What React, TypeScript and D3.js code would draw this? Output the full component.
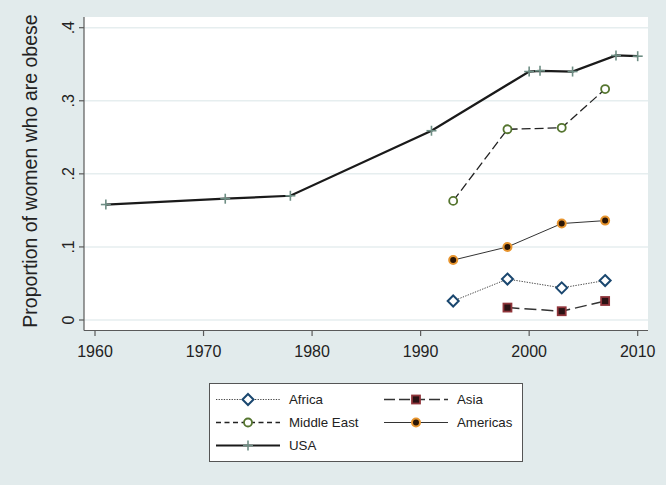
import React from "react";
import * as d3 from "d3";

const usaYears = [1961, 1972, 1978, 1991, 2000, 2001, 2004, 2008, 2010];
const usaValues = [0.158, 0.166, 0.17, 0.259, 0.34, 0.341, 0.34, 0.362, 0.361];
const regionYears = [1993, 1998, 2003, 2007];
const africaValues = [0.026, 0.056, 0.044, 0.054];
const middleEastValues = [0.163, 0.261, 0.263, 0.316];
const americasValues = [0.082, 0.1, 0.132, 0.136];
const asiaYears = [1998, 2003, 2007];
const asiaValues = [0.017, 0.012, 0.026];
const xTicks = [1960, 1970, 1980, 1990, 2000, 2010];
const yTicks = [0, 0.1, 0.2, 0.3, 0.4];
const yTickLabels = ["0", ".1", ".2", ".3", ".4"];

const W = 666;
const H = 485;
const BG = "#e2ebec";
const FONT = "Liberation Sans, Arial, sans-serif";

const plot = { left: 84, right: 648, top: 17, bottom: 330 };

const x = d3.scaleLinear().domain([1960, 2010]).range([95, 637.7]);
const y = d3.scaleLinear().domain([0, 0.4]).range([320, 27.7]);

type Pt = [number, number];
const zip = (xs: number[], ys: number[]): Pt[] => xs.map((v, i) => [v, ys[i]]);
const line = d3
  .line<Pt>()
  .x((d) => x(d[0]))
  .y((d) => y(d[1]));

type MarkerKind = "diamond" | "square" | "hcircle" | "fcircle" | "plus";

function Marker({ kind, cx, cy }: { kind: MarkerKind; cx: number; cy: number }) {
  switch (kind) {
    case "diamond": {
      const r = 5.5;
      return (
        <polygon
          points={`${cx},${cy - r} ${cx + r},${cy} ${cx},${cy + r} ${cx - r},${cy}`}
          fill="white"
          stroke="#1a476f"
          strokeWidth={2}
        />
      );
    }
    case "square":
      return (
        <rect x={cx - 4} y={cy - 4} width={8} height={8} fill="#2a1214" stroke="#90353b" strokeWidth={1.8} />
      );
    case "hcircle":
      return <circle cx={cx} cy={cy} r={4} fill="white" stroke="#55752f" strokeWidth={1.8} />;
    case "fcircle":
      return <circle cx={cx} cy={cy} r={4} fill="#2b1606" stroke="#e8952e" strokeWidth={2} />;
    case "plus":
      return (
        <g stroke="#6e8e84" strokeWidth={1.6}>
          <line x1={cx - 5} x2={cx + 5} y1={cy} y2={cy} />
          <line x1={cx} x2={cx} y1={cy - 5} y2={cy + 5} />
        </g>
      );
  }
}

interface Series {
  name: string;
  pts: Pt[];
  marker: MarkerKind;
  stroke: string;
  width: number;
  dash?: string;
  legendDash?: string;
}

const series: Series[] = [
  { name: "USA", pts: zip(usaYears, usaValues), marker: "plus", stroke: "#1a1a1a", width: 2.2 },
  { name: "Middle East", pts: zip(regionYears, middleEastValues), marker: "hcircle", stroke: "#222", width: 1.3, dash: "9,4", legendDash: "5,3.5" },
  { name: "Americas", pts: zip(regionYears, americasValues), marker: "fcircle", stroke: "#333", width: 1 },
  { name: "Africa", pts: zip(regionYears, africaValues), marker: "diamond", stroke: "#444", width: 1, dash: "1.3,1.3", legendDash: "1.3,1.3" },
  { name: "Asia", pts: zip(asiaYears, asiaValues), marker: "square", stroke: "#333", width: 1.5, dash: "12,5", legendDash: "11,4" },
];

const legendOrder: [string, number, number][] = [
  ["Africa", 0, 0],
  ["Asia", 1, 0],
  ["Middle East", 0, 1],
  ["Americas", 1, 1],
  ["USA", 0, 2],
];

export default function App() {
  return (
    <svg width={W} height={H} style={{ position: "absolute", left: 0, top: 0 }} fontFamily={FONT}>
      <rect width={W} height={H} fill={BG} />
      <rect x={plot.left} y={plot.top} width={plot.right - plot.left} height={plot.bottom - plot.top} fill="white" />
      {yTicks.map((t) => (
        <line key={t} x1={plot.left} x2={plot.right} y1={y(t)} y2={y(t)} stroke="#e6eeef" strokeWidth={1.5} />
      ))}
      {/* axes */}
      <line x1={plot.left} x2={plot.left} y1={plot.top} y2={plot.bottom + 0.5} stroke="#5a5a5a" strokeWidth={1.2} />
      <line x1={plot.left} x2={plot.right} y1={plot.bottom + 0.5} y2={plot.bottom + 0.5} stroke="#5a5a5a" strokeWidth={1.2} />
      {yTicks.map((t, i) => (
        <g key={t}>
          <line x1={plot.left - 5} x2={plot.left} y1={y(t)} y2={y(t)} stroke="#5a5a5a" strokeWidth={1.2} />
          <text
            transform={`translate(73.5,${y(t)}) rotate(-90)`}
            textAnchor="middle"
            fontSize={16}
            fill="#222"
          >
            {yTickLabels[i]}
          </text>
        </g>
      ))}
      {xTicks.map((t) => (
        <g key={t}>
          <line x1={x(t)} x2={x(t)} y1={plot.bottom} y2={plot.bottom + 6} stroke="#5a5a5a" strokeWidth={1.2} />
          <text x={x(t)} y={357} textAnchor="middle" fontSize={16} fill="#222">
            {t}
          </text>
        </g>
      ))}
      <text transform="translate(37,171) rotate(-90)" textAnchor="middle" fontSize={19.5} fill="#222">
        Proportion of women who are obese
      </text>
      {/* series */}
      {series.map((s) => (
        <g key={s.name}>
          <path d={line(s.pts) || ""} fill="none" stroke={s.stroke} strokeWidth={s.width} strokeDasharray={s.dash} />
          {s.pts.map((p, i) => (
            <Marker key={i} kind={s.marker} cx={x(p[0])} cy={y(p[1])} />
          ))}
        </g>
      ))}
      {/* legend */}
      <rect x={209.5} y={383.5} width={313} height={78} fill="white" stroke="#555" strokeWidth={1} />
      {legendOrder.map(([name, col, row]) => {
        const s = series.find((d) => d.name === name)!;
        const x0 = col === 0 ? 216 : 384;
        const yy = 399.5 + row * 23;
        return (
          <g key={name}>
            <line x1={x0} x2={x0 + 64} y1={yy} y2={yy} stroke={s.stroke} strokeWidth={s.width} strokeDasharray={s.legendDash} />
            <Marker kind={s.marker} cx={x0 + 32} cy={yy} />
            <text x={x0 + 73} y={yy + 4.8} fontSize={13.3} fill="#222">
              {name}
            </text>
          </g>
        );
      })}
    </svg>
  );
}
